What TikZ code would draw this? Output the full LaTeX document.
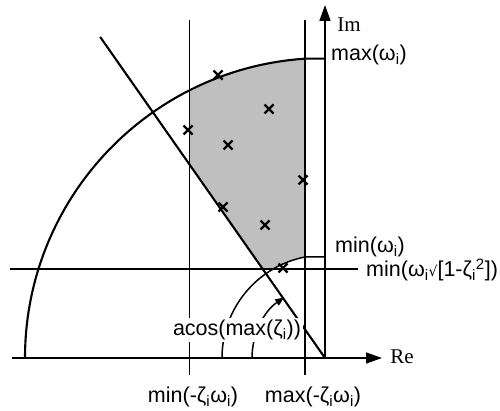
\documentclass[tikz,border=0pt]{standalone}
\usepackage{fontspec}
\setmainfont{Liberation Sans}
\newfontfamily\serifft{Liberation Serif}
\newfontfamily\dvs{DejaVu Sans}
\usetikzlibrary{arrows.meta,calc}
\begin{document}
\begin{tikzpicture}[x=1pt,y=1pt,
  ln/.style={line width=1.5pt},
  thick line/.style={line width=2.1pt},
  axis/.style={line width=1.6pt,-{Triangle[length=16pt,width=11pt]}},
  lbl/.style={font=\fontsize{21.5}{24}\selectfont,inner sep=1pt},
  axlbl/.style={font=\fontsize{21}{24}\serifft,inner sep=1pt},
  cross/.style={line width=2.2pt}]
\useasboundingbox (0,0) rectangle (500,410);
\coordinate (O) at (325,52);
% shaded region
\begin{scope}
  \clip (189.5,0) rectangle (305,410);
  \clip (O) -- ++(125:500) -- (600,600) -- (600,52) -- cycle;
  \clip (0,141) rectangle (500,410);
  \fill[black!25,even odd rule] (O) circle[radius=300] (O) circle[radius=103];
\end{scope}
% vertical bound lines
\coordinate (vmint) at (189.5,390); \coordinate (vminb) at (189.5,35);
\coordinate (vmaxt) at (305,390);   \coordinate (vmaxb) at (305,35);
\draw[ln] (vmint) -- (vminb);
\draw[ln] (vmaxt) -- (vmaxb);
% horizontal line
\coordinate (hl) at (10,141); \coordinate (hr) at (358,141);
\draw[thick line] (hl) -- (hr);
% axes
\coordinate (reL) at (12,52); \coordinate (reT) at (382,52); \coordinate (imT) at (325,405);
\draw[axis] (reL) -- (reT);
\draw[axis] (O) -- (imT);
% big arc max(omega)
\draw[thick line] (25,52) arc[start angle=180,end angle=93.82,radius=300] coordinate (bigend) -- (bigend -| O);
% small arc min(omega)
\draw[ln] ($(O)+(-103,0)$) arc[start angle=180,end angle=101.2,radius=103] coordinate (smend) -- (smend -| O);
% diagonal
\draw[thick line] (O) -- ++(125:392) coordinate (dtop);
% angle arc
\draw[ln,-{Triangle[length=9pt,width=7pt]}] ($(O)+(-73,0)$) arc[start angle=180,end angle=124,radius=73];
% crosses
\foreach \p in {(218,335),(269,301),(188,280),(228,265),(303,230),(223,203),(265,185),(283,142)}{
  \draw[cross] \p ++(-4.5,-4.5) -- ++(9,9) \p ++(-4.5,4.5) -- ++(9,-9);
}
% labels
\node[axlbl] (im) at (349,385) {Im};
\node[axlbl] (re) at (402,53) {Re};
\node[lbl,anchor=west] (maxw) at (330,355) {max(ω\textsubscript{i})};
\node[lbl,anchor=west] (minw) at (334,163) {min(ω\textsubscript{i})};
\node[lbl,anchor=west] (minwd) at (365,140) {min(ω\textsubscript{i}{\dvs\fontsize{14}{15}\selectfont √}[1-ζ\textsubscript{i}\textsuperscript{2}])};
\node[lbl] (minz) at (193,13) {min(-ζ\textsubscript{i}ω\textsubscript{i})};
\node[lbl] (maxz) at (313,13) {max(-ζ\textsubscript{i}ω\textsubscript{i})};
\node[lbl,fill=white,inner sep=2pt] (acos) at (237,80) {acos(max(ζ\textsubscript{i}))};
\end{tikzpicture}
\end{document}
